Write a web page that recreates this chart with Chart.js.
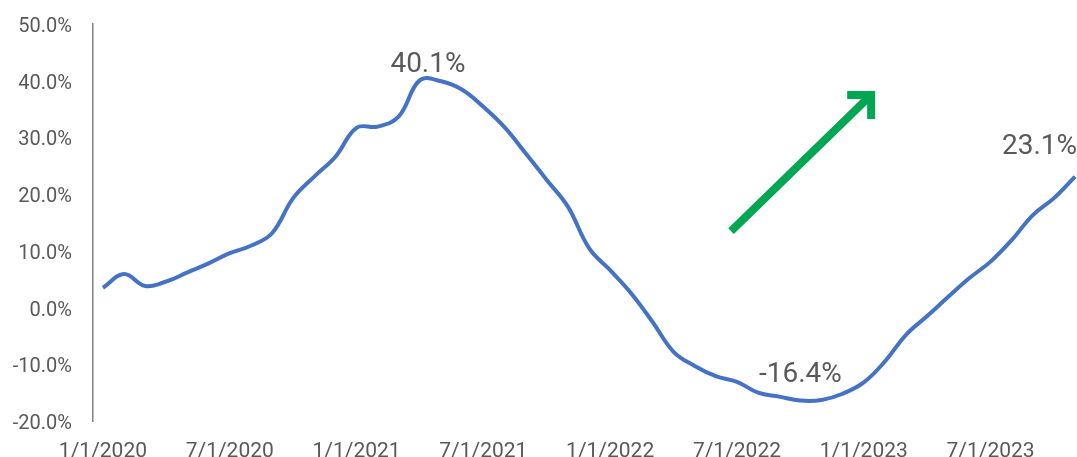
<!DOCTYPE html>
<html>
<head>
<meta charset="utf-8">
<script src="https://cdn.jsdelivr.net/npm/chart.js@4.4.1/dist/chart.umd.min.js"></script>
<style>
  html, body { margin: 0; padding: 0; background: #fff; }
  #wrap { width: 1077px; height: 457px; position: relative; }
</style>
</head>
<body>
<div id="wrap"><canvas id="trendChart"></canvas></div>
<script>
// Monthly year-over-year change, Jan 2020 .. Nov 2023
const months = [
  '1/1/2020','2/1/2020','3/1/2020','4/1/2020','5/1/2020','6/1/2020','7/1/2020','8/1/2020','9/1/2020','10/1/2020','11/1/2020','12/1/2020',
  '1/1/2021','2/1/2021','3/1/2021','4/1/2021','5/1/2021','6/1/2021','7/1/2021','8/1/2021','9/1/2021','10/1/2021','11/1/2021','12/1/2021',
  '1/1/2022','2/1/2022','3/1/2022','4/1/2022','5/1/2022','6/1/2022','7/1/2022','8/1/2022','9/1/2022','10/1/2022','11/1/2022','12/1/2022',
  '1/1/2023','2/1/2023','3/1/2023','4/1/2023','5/1/2023','6/1/2023','7/1/2023','8/1/2023','9/1/2023','10/1/2023','11/1/2023'
];
const values = [
  3.5, 5.9, 3.8, 4.6, 6.2, 7.8, 9.6, 10.9, 13.1, 19.3, 23.1, 26.6,
  31.7, 31.9, 33.7, 40.1, 39.9, 38.4, 35.4, 31.8, 27.2, 22.5, 17.8, 10.5,
  6.6, 2.5, -2.5, -7.8, -10.3, -12.1, -13.1, -15.0, -15.7, -16.4, -16.3, -15.2,
  -13.2, -9.5, -4.8, -1.5, 1.9, 5.2, 8.1, 11.9, 16.3, 19.3, 23.1
];
const xTickLabels = ['1/1/2020', '7/1/2020', '1/1/2021', '7/1/2021', '1/1/2022', '7/1/2022', '1/1/2023', '7/1/2023'];
const yTicks = [-20, -10, 0, 10, 20, 30, 40, 50];

// points that get a value label (peak, trough, latest)
const labelledPoints = [15, 33, 46];
// green trend arrow, in (month index, %) space
const arrowFrom = [29.72, 13.5];
const arrowTo = [36.35, 37.5];

const textGrey = '#595959';

const labelStyle = {
  15: { dx: 8, dy: -8, align: 'center' },
  33: { dx: 0, dy: -19, align: 'center' },
  46: { dx: 2, dy: -23, align: 'right' }
};

const annotations = {
  id: 'annotations',
  afterDatasetsDraw(chart) {
    const { ctx, scales: { x, y } } = chart;
    ctx.save();

    // value labels
    ctx.font = '28px Roboto';
    ctx.fillStyle = textGrey;
    ctx.textBaseline = 'alphabetic';
    labelledPoints.forEach(i => {
      const s = labelStyle[i];
      ctx.textAlign = s.align;
      const px = x.getPixelForValue(i) + s.dx;
      const py = y.getPixelForValue(values[i]) + s.dy;
      ctx.fillText(values[i].toFixed(1) + '%', px, py);
    });

    // trend arrow
    const x0 = x.getPixelForValue(arrowFrom[0]), y0 = y.getPixelForValue(arrowFrom[1]);
    const x1 = x.getPixelForValue(arrowTo[0]), y1 = y.getPixelForValue(arrowTo[1]);
    ctx.strokeStyle = '#00A651';
    ctx.lineWidth = 8;
    ctx.lineCap = 'butt';
    ctx.lineJoin = 'miter';
    ctx.beginPath();
    ctx.moveTo(x0, y0);
    ctx.lineTo(x1, y1);
    ctx.stroke();
    ctx.beginPath();
    ctx.moveTo(x1 - 24, y1);
    ctx.lineTo(x1, y1);
    ctx.lineTo(x1, y1 + 24);
    ctx.stroke();

    ctx.restore();
  }
};

const ctx = document.getElementById('trendChart').getContext('2d');
new Chart(ctx, {
  type: 'line',
  data: {
    datasets: [{
      label: 'YoY change',
      data: values.map((v, i) => ({ x: i, y: v })),
      borderColor: '#4472C4',
      borderWidth: 4,
      pointRadius: 0,
      fill: false,
      tension: 0.4
    }]
  },
  options: {
    responsive: true,
    maintainAspectRatio: false,
    animation: false,
    layout: { padding: { top: 24, right: 0, bottom: 0, left: 0 } },
    plugins: {
      legend: { display: false },
      tooltip: { enabled: false }
    },
    scales: {
      x: {
        type: 'linear',
        min: -0.47,
        max: 46.09,
        afterBuildTicks: scale => {
          scale.ticks = xTickLabels.map((_, k) => ({ value: k * 6 }));
        },
        afterFit: scale => {
          scale.height = 36;
          scale.paddingLeft = 0;
          scale.paddingRight = 0;
        },
        grid: { display: false, drawTicks: false },
        border: { display: false },
        ticks: {
          color: textGrey,
          font: { family: 'Roboto', size: 21 },
          padding: 18,
          maxRotation: 0,
          autoSkip: false,
          callback: v => xTickLabels[Math.round(v / 6)] || ''
        }
      },
      y: {
        min: -20,
        max: 50,
        afterBuildTicks: scale => {
          scale.ticks = yTicks.map(v => ({ value: v }));
        },
        afterFit: scale => {
          scale.width = 93;
          scale.paddingTop = 0;
          scale.paddingBottom = 0;
        },
        grid: { display: false, drawTicks: false },
        border: { display: true, color: '#808080', width: 1.5 },
        ticks: {
          color: textGrey,
          // empty first line nudges the label ~3px down to sit like the original
          font: { family: 'Roboto', size: 20, lineHeight: 0.3 },
          padding: 21,
          callback: v => ['', Number(v).toFixed(1) + '%']
        }
      }
    }
  },
  plugins: [annotations]
});
</script>
</body>
</html>
